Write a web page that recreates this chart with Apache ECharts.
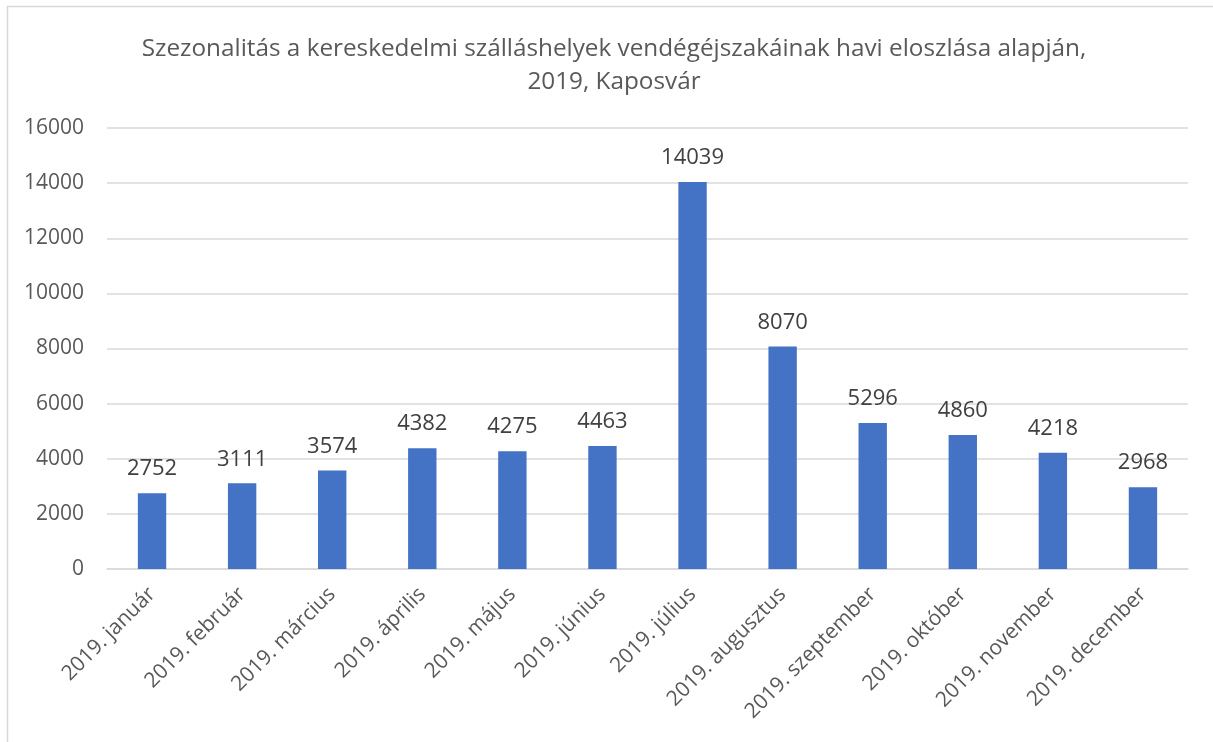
<!DOCTYPE html>
<html>
<head>
<meta charset="utf-8">
<script src="https://cdn.jsdelivr.net/npm/echarts@6/dist/echarts.min.js"></script>
<style>
  html, body { margin: 0; padding: 0; background: #fff; }
  #main { width: 1213px; height: 742px; }
</style>
</head>
<body>
<div id="main"></div>
<script>
const months = [
  '2019. január', '2019. február', '2019. március', '2019. április',
  '2019. május', '2019. június', '2019. július', '2019. augusztus',
  '2019. szeptember', '2019. október', '2019. november', '2019. december'
]
const nights = [2752, 3111, 3574, 4382, 4275, 4463, 14039, 8070, 5296, 4860, 4218, 2968]
const yTicks = [0, 2000, 4000, 6000, 8000, 10000, 12000, 14000, 16000]

const font = '"Open Sans", "Liberation Sans", sans-serif'

const chart = echarts.init(document.getElementById('main'))
chart.setOption({
  animation: false,
  textStyle: { fontFamily: font },
  graphic: [{
    type: 'rect',
    shape: { x: 7.5, y: 6.5, width: 1230, height: 760 },
    style: { fill: 'none', stroke: '#d9d9d9', lineWidth: 1.5 },
    silent: true
  }],
  title: {
    text: 'Szezonalitás a kereskedelmi szálláshelyek vendégéjszakáinak havi eloszlása alapján,\n2019, Kaposvár',
    left: 609,
    top: 28,
    textAlign: 'center',
    textStyle: {
      fontFamily: font,
      fontSize: 24.3,
      fontWeight: 'normal',
      color: '#595959',
      lineHeight: 33
    }
  },
  grid: { left: 107, right: 25, top: 128, bottom: 173, containLabel: false },
  xAxis: {
    type: 'category',
    data: months,
    axisLine: { lineStyle: { color: '#d9d9d9', width: 1.5 } },
    axisTick: { show: false },
    axisLabel: {
      rotate: 45,
      interval: 0,
      margin: 22,
      fontFamily: font,
      fontSize: 21,
      color: '#595959'
    }
  },
  yAxis: {
    type: 'value',
    min: yTicks[0],
    max: yTicks[yTicks.length - 1],
    interval: 2000,
    axisLine: { show: false },
    axisTick: { show: false },
    splitLine: { lineStyle: { color: '#d9d9d9', width: 1.5 } },
    axisLabel: {
      margin: 23,
      fontFamily: font,
      fontSize: 21,
      color: '#595959',
      formatter: v => String(v)
    }
  },
  series: [{
    type: 'bar',
    data: nights,
    barWidth: '31.5%',
    itemStyle: { color: '#4472C4' },
    label: {
      show: true,
      position: 'top',
      distance: 13,
      fontFamily: font,
      fontSize: 22,
      color: '#404040'
    }
  }]
})
</script>
</body>
</html>
